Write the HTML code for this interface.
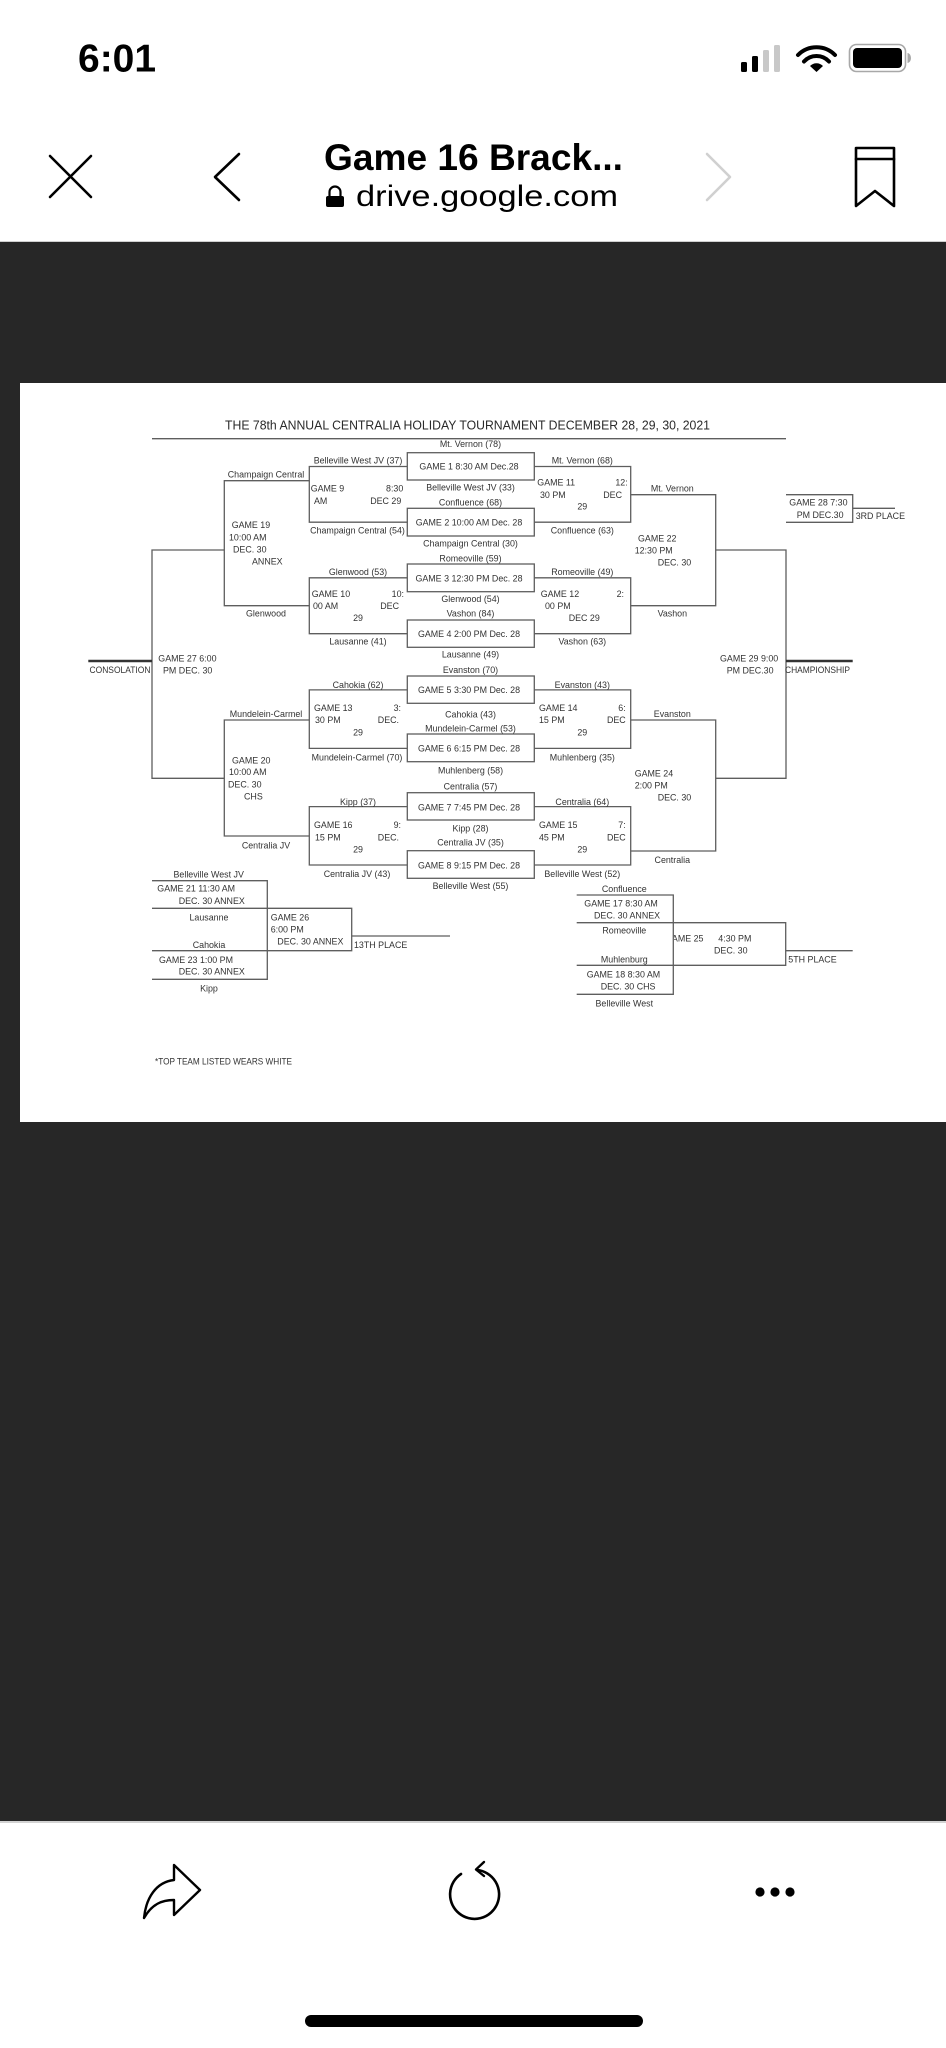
<!DOCTYPE html>
<html>
<head>
<meta charset="utf-8">
<style>
html,body{margin:0;padding:0;background:#fff;}
body{width:946px;height:2048px;overflow:hidden;position:relative;}
svg{position:absolute;left:0;top:0;}
.t{font-family:"Liberation Sans",Arial,sans-serif;font-size:8.9px;fill:#333;dominant-baseline:central;white-space:pre;}
.m{text-anchor:middle;}
.e{text-anchor:end;}
.ln{stroke:#5e5e5e;stroke-width:1.3;fill:none;}
</style>
</head>
<body>
<svg width="946" height="2048" viewBox="0 0 946 2048" xmlns="http://www.w3.org/2000/svg">
  <defs>
    <clipPath id="c25"><rect x="674" y="925" width="110" height="40"/></clipPath>
  </defs>
  <!-- backgrounds -->
  <rect x="0" y="0" width="946" height="2048" fill="#ffffff"/>
  <rect x="0" y="241" width="946" height="1.5" fill="#cfcfcf"/>
  <rect x="0" y="242" width="946" height="1579" fill="#272727"/>
  <rect x="0" y="1821" width="946" height="2" fill="#d2d2d2"/>
  <rect x="20" y="383" width="926" height="739" fill="#ffffff"/>

  <!-- status bar -->
  <text x="78" y="71.5" style="font-family:'Liberation Sans',Arial,sans-serif;font-size:39px;font-weight:bold;fill:#000">6:01</text>
  <rect x="741" y="62" width="6" height="10" rx="1.5" fill="#000"/>
  <rect x="752" y="56" width="6" height="16" rx="1.5" fill="#000"/>
  <rect x="763" y="50" width="6" height="22" rx="1.5" fill="#c8c8c8"/>
  <rect x="774" y="45" width="6" height="27" rx="1.5" fill="#c8c8c8"/>
  <g fill="none" stroke="#000" stroke-width="4" stroke-linecap="round">
    <path d="M798,55 A26,26 0 0 1 835,55"/>
    <path d="M804,61.5 A17,17 0 0 1 829,61.5"/>
  </g>
  <path d="M810,66 A9,9 0 0 1 823,66 L816.5,72 Z" fill="#000"/>
  <rect x="849.5" y="44.5" width="56" height="27" rx="7" fill="none" stroke="#a8a8a8" stroke-width="1.6"/>
  <rect x="853" y="48" width="49" height="20" rx="4" fill="#000"/>
  <path d="M907.5,53 a3.5,5 0 0 1 0,10 Z" fill="#a8a8a8"/>

  <!-- nav header -->
  <g stroke="#000" stroke-width="2.6" fill="none" stroke-linecap="round" stroke-linejoin="round">
    <path d="M50,156 L91,197 M91,156 L50,197"/>
    <path d="M239,154 L215,177 L239,200"/>
    <path d="M856,148 H894 V206 L875,191 L856,206 Z"/>
    <path d="M856,159 H894"/>
  </g>
  <path d="M707,154 L730,177 L707,200" stroke="#d0d0d0" stroke-width="2.6" fill="none" stroke-linecap="round" stroke-linejoin="round"/>
  <text x="324" y="170" textLength="299" lengthAdjust="spacingAndGlyphs" style="font-family:'Liberation Sans',Arial,sans-serif;font-size:37px;font-weight:bold;fill:#000">Game 16 Brack...</text>
  <path d="M329.5,197 V192 a5.5,5.5 0 0 1 11,0 V197" stroke="#000" stroke-width="2.2" fill="none"/>
  <rect x="326" y="196" width="18" height="11" rx="2" fill="#000"/>
  <text x="356" y="206" textLength="262" lengthAdjust="spacingAndGlyphs" style="font-family:'Liberation Sans',Arial,sans-serif;font-size:30px;fill:#000">drive.google.com</text>

  <!-- bottom toolbar -->
  <path d="M174,1880 C156,1882 146,1898 144,1918 C152,1904 162,1900 174,1900 V1915 L200,1890 L174,1865 Z" fill="none" stroke="#000" stroke-width="2.4" stroke-linejoin="round"/>
  <path d="M461,1874 A24.5,24.5 0 1 0 477,1870" fill="none" stroke="#000" stroke-width="2.6" stroke-linecap="round"/>
  <path d="M484,1862 L476,1869.5 L484,1876" fill="none" stroke="#000" stroke-width="2.4" stroke-linecap="round" stroke-linejoin="round"/>
  <circle cx="760" cy="1892" r="4.6" fill="#000"/>
  <circle cx="775" cy="1892" r="4.6" fill="#000"/>
  <circle cx="790" cy="1892" r="4.6" fill="#000"/>
  <rect x="305" y="2015" width="338" height="12" rx="6" fill="#000"/>

  <!-- ======== BRACKET ======== -->
  <text x="225" y="429.5" textLength="485" lengthAdjust="spacingAndGlyphs" style="font-family:'Liberation Sans',Arial,sans-serif;font-size:13px;fill:#2a2a2a">THE 78th ANNUAL CENTRALIA HOLIDAY TOURNAMENT DECEMBER 28, 29, 30, 2021</text>
  <path class="ln" d="M152,438.7 H786"/>

  <!-- middle boxes -->
  <g class="ln">
    <rect x="407.3" y="452.7" width="127" height="27.3"/>
    <rect x="407.3" y="508.3" width="127" height="27.7"/>
    <rect x="407.3" y="564" width="127" height="27.7"/>
    <rect x="407.3" y="620" width="127" height="27.3"/>
    <rect x="407.3" y="676" width="127" height="27.3"/>
    <rect x="407.3" y="734" width="127" height="27.7"/>
    <rect x="407.3" y="792.7" width="127" height="27.3"/>
    <rect x="407.3" y="850.7" width="127" height="27.6"/>
  </g>

  <!-- left brackets -->
  <g class="ln">
    <path d="M407.3,466.5 H309.3 V522.2 H407.3"/>
    <path d="M407.3,577.8 H309.3 V633.7 H407.3"/>
    <path d="M407.3,689.9 H309.3 V748.4 H407.3"/>
    <path d="M407.3,806.6 H309.3 V865 H407.3"/>
    <path d="M309.3,480.7 H224.3 V605.7 H309.3"/>
    <path d="M309.3,720 H224.3 V836 H309.3"/>
    <path d="M224.3,550 H152 V778.3 H224.3"/>
    <!-- right brackets -->
    <path d="M534.3,466.5 H630.7 V522.2 H534.3"/>
    <path d="M534.3,577.8 H630.7 V633.7 H534.3"/>
    <path d="M534.3,689.9 H630.7 V748.4 H534.3"/>
    <path d="M534.3,806.6 H630.7 V865 H534.3"/>
    <path d="M630.7,494.7 H715.7 V605.7 H630.7"/>
    <path d="M630.7,720 H715.7 V851 H630.7"/>
    <path d="M715.7,550 H786 V778.3 H715.7"/>
    <path d="M786,494.7 H852.7 V522.3 H786"/>
    <path d="M852.7,508.3 H895"/>
    <!-- bottom left consolation -->
    <path d="M152,880.7 H267.3 V979.3 H152"/>
    <path d="M152,908.3 H351.7 V950.7 H152"/>
    <path d="M351.7,936 H450"/>
    <!-- bottom right consolation -->
    <path d="M576.7,895 H673.3 V994.3 H576.7"/>
    <path d="M576.7,922.7 H785.7 V965.3 H576.7"/>
    <path d="M785.7,950.7 H852.7"/>
  </g>
  <path d="M88.3,661 H152" stroke="#333" stroke-width="2.6"/>
  <path d="M786,661 H852.7" stroke="#333" stroke-width="2.6"/>

  <!-- middle text -->
  <g class="t m">
    <text x="470.5" y="444">Mt. Vernon (78)</text>
    <text x="469" y="466.7">GAME 1  8:30 AM Dec.28</text>
    <text x="470.5" y="487.3">Belleville West JV (33)</text>
    <text x="470.5" y="502.3">Confluence (68)</text>
    <text x="469" y="522.7">GAME 2  10:00 AM Dec. 28</text>
    <text x="470.5" y="543.3">Champaign Central (30)</text>
    <text x="470.5" y="558.3">Romeoville (59)</text>
    <text x="469" y="578.3">GAME 3  12:30 PM Dec. 28</text>
    <text x="470.5" y="599">Glenwood (54)</text>
    <text x="470.5" y="613.3">Vashon (84)</text>
    <text x="469" y="634">GAME 4  2:00 PM Dec. 28</text>
    <text x="470.5" y="654.3">Lausanne (49)</text>
    <text x="470.5" y="670">Evanston (70)</text>
    <text x="469" y="690">GAME 5  3:30 PM Dec. 28</text>
    <text x="470.5" y="714.3">Cahokia (43)</text>
    <text x="470.5" y="728.3">Mundelein-Carmel (53)</text>
    <text x="469" y="748.3">GAME 6  6:15 PM Dec. 28</text>
    <text x="470.5" y="770.7">Muhlenberg (58)</text>
    <text x="470.5" y="786.7">Centralia (57)</text>
    <text x="469" y="807.3">GAME 7  7:45 PM Dec. 28</text>
    <text x="470.5" y="828.3">Kipp (28)</text>
    <text x="470.5" y="842.7">Centralia JV (35)</text>
    <text x="469" y="865.7">GAME 8  9:15 PM Dec. 28</text>
    <text x="470.5" y="886">Belleville West (55)</text>
  </g>

  <!-- left column text -->
  <g class="t">
    <text class="m" x="358" y="460.7">Belleville West JV (37)</text>
    <text x="310.7" y="488.7">GAME 9</text>
    <text class="e" x="403.3" y="488.7">8:30</text>
    <text x="314" y="501">AM</text>
    <text class="e" x="401.3" y="501">DEC 29</text>
    <text class="m" x="357.5" y="530.7">Champaign Central (54)</text>

    <text class="m" x="358" y="572">Glenwood (53)</text>
    <text x="311.7" y="594">GAME 10</text>
    <text class="e" x="404" y="594">10:</text>
    <text x="313" y="606">00 AM</text>
    <text class="e" x="399" y="606">DEC</text>
    <text class="m" x="358" y="618">29</text>
    <text class="m" x="358" y="641.7">Lausanne (41)</text>

    <text class="m" x="358" y="685">Cahokia (62)</text>
    <text x="314" y="708">GAME 13</text>
    <text class="e" x="401" y="708">3:</text>
    <text x="315" y="720">30 PM</text>
    <text class="e" x="399" y="720">DEC.</text>
    <text class="m" x="358" y="732.3">29</text>
    <text class="m" x="357" y="757.7">Mundelein-Carmel (70)</text>

    <text class="m" x="358" y="802">Kipp (37)</text>
    <text x="314" y="825">GAME 16</text>
    <text class="e" x="401" y="825">9:</text>
    <text x="315" y="837.3">15 PM</text>
    <text class="e" x="399" y="837.3">DEC.</text>
    <text class="m" x="358" y="849.3">29</text>
    <text class="m" x="357" y="874">Centralia JV (43)</text>

    <text class="m" x="266" y="474.7">Champaign Central</text>
    <text x="231.7" y="525">GAME 19</text>
    <text x="229" y="537.3">10:00 AM</text>
    <text x="233" y="549.3">DEC. 30</text>
    <text x="252" y="561.7">ANNEX</text>
    <text class="m" x="266" y="613.3">Glenwood</text>

    <text class="m" x="266" y="714">Mundelein-Carmel</text>
    <text x="232" y="760.3">GAME 20</text>
    <text x="229" y="772">10:00 AM</text>
    <text x="228" y="784.7">DEC. 30</text>
    <text x="244" y="796.7">CHS</text>
    <text class="m" x="266" y="845.7">Centralia JV</text>

    <text x="158.3" y="658.3">GAME 27 6:00</text>
    <text x="163" y="670.7">PM  DEC. 30</text>
    <text x="89.5" y="670" textLength="61" lengthAdjust="spacingAndGlyphs">CONSOLATION</text>
  </g>

  <!-- right column text -->
  <g class="t">
    <text class="m" x="582.3" y="460.7">Mt. Vernon (68)</text>
    <text x="537.3" y="482.7">GAME 11</text>
    <text class="e" x="627.7" y="482.7">12:</text>
    <text x="540" y="495">30 PM</text>
    <text class="e" x="622" y="495">DEC</text>
    <text class="m" x="582.3" y="506.7">29</text>
    <text class="m" x="582.3" y="530.7">Confluence (63)</text>

    <text class="m" x="582.3" y="572">Romeoville (49)</text>
    <text x="540.7" y="594">GAME 12</text>
    <text class="e" x="624" y="594">2:</text>
    <text x="545" y="606">00 PM</text>
    <text x="568.7" y="618">DEC 29</text>
    <text class="m" x="582.3" y="641.7">Vashon (63)</text>

    <text class="m" x="582.3" y="685">Evanston (43)</text>
    <text x="539" y="708">GAME 14</text>
    <text class="e" x="625.7" y="708">6:</text>
    <text x="539" y="720">15 PM</text>
    <text class="e" x="625.7" y="720">DEC</text>
    <text class="m" x="582.3" y="732.3">29</text>
    <text class="m" x="582.3" y="757.7">Muhlenberg (35)</text>

    <text class="m" x="582.3" y="802">Centralia (64)</text>
    <text x="539" y="825">GAME 15</text>
    <text class="e" x="625.7" y="825">7:</text>
    <text x="539" y="837.3">45 PM</text>
    <text class="e" x="625.7" y="837.3">DEC</text>
    <text class="m" x="582.3" y="849.3">29</text>
    <text class="m" x="582.3" y="874">Belleville West (52)</text>

    <text class="m" x="672.3" y="488.7">Mt. Vernon</text>
    <text x="638" y="538.3">GAME  22</text>
    <text x="634.7" y="550.3">12:30 PM</text>
    <text x="657.7" y="562.7">DEC. 30</text>
    <text class="m" x="672.3" y="613.3">Vashon</text>

    <text class="m" x="672.3" y="714">Evanston</text>
    <text x="634.7" y="773.3">GAME 24</text>
    <text x="634.7" y="785.7">2:00 PM</text>
    <text x="657.7" y="797.7">DEC. 30</text>
    <text class="m" x="672.3" y="860">Centralia</text>

    <text x="720" y="658.3">GAME 29 9:00</text>
    <text x="726.7" y="670.7">PM  DEC.30</text>
    <text x="785" y="670" textLength="65" lengthAdjust="spacingAndGlyphs">CHAMPIONSHIP</text>

    <text x="789.3" y="502.7">GAME 28 7:30</text>
    <text x="796.7" y="515">PM DEC.30</text>
    <text x="855.7" y="516">3RD PLACE</text>
  </g>

  <!-- bottom-left consolation text -->
  <g class="t">
    <text class="m" x="208.7" y="874.7">Belleville West JV</text>
    <text x="157.3" y="888.7">GAME 21 11:30 AM</text>
    <text x="178.7" y="901">DEC. 30 ANNEX</text>
    <text class="m" x="209" y="917.3">Lausanne</text>
    <text class="m" x="209" y="945">Cahokia</text>
    <text x="159" y="960">GAME 23 1:00 PM</text>
    <text x="178.7" y="971.7">DEC. 30 ANNEX</text>
    <text class="m" x="209" y="988.7">Kipp</text>
    <text x="270.7" y="917.3">GAME 26</text>
    <text x="270.7" y="929.3">6:00 PM</text>
    <text x="277.3" y="941.7">DEC. 30  ANNEX</text>
    <text x="354" y="945">13TH PLACE</text>
    <text x="155" y="1061.7" textLength="137" lengthAdjust="spacingAndGlyphs">*TOP TEAM LISTED WEARS WHITE</text>
  </g>

  <!-- bottom-right consolation text -->
  <g class="t">
    <text class="m" x="624.3" y="889">Confluence</text>
    <text x="584.3" y="903.3">GAME 17 8:30 AM</text>
    <text x="594" y="915.7">DEC. 30 ANNEX</text>
    <text class="m" x="624.3" y="930.3">Romeoville</text>
    <text class="m" x="624.3" y="959.3">Muhlenburg</text>
    <text x="586.7" y="974.7">GAME 18 8:30 AM</text>
    <text x="600.7" y="986.7">DEC. 30 CHS</text>
    <text class="m" x="624.3" y="1003.3">Belleville West</text>
    <text x="665" y="938.3" clip-path="url(#c25)">GAME 25</text>
    <text x="718.3" y="938.3">4:30 PM</text>
    <text x="714" y="950.3">DEC. 30</text>
    <text x="788.3" y="959.3">5TH PLACE</text>
  </g>
</svg>
</body>
</html>
